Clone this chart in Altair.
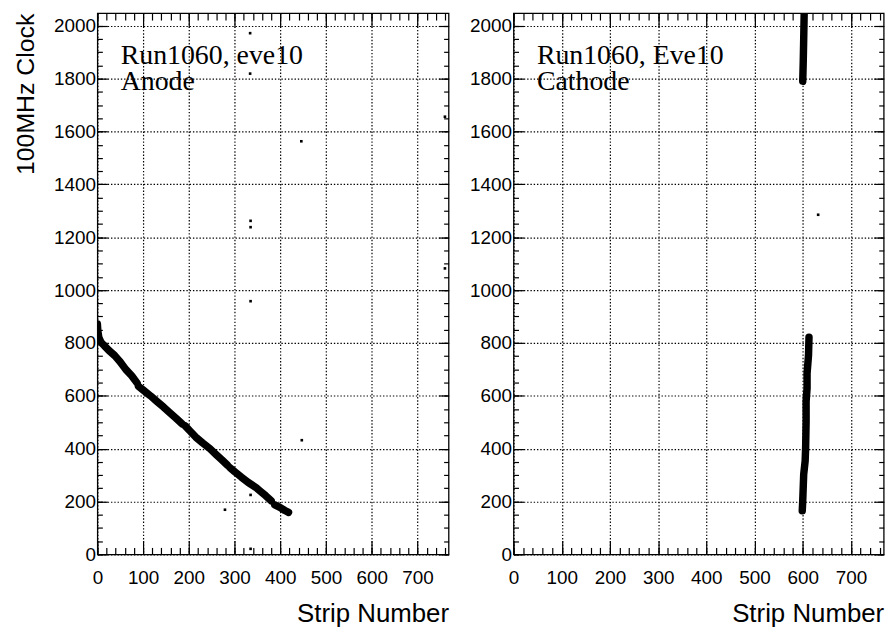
import altair as alt
import pandas as pd

# ---------------- data ----------------
X_MAX = 768
Y_MAX = 2048
X_MAJOR = [0, 100, 200, 300, 400, 500, 600, 700]
X_MINOR = list(range(0, 761, 20))
Y_MAJOR = list(range(0, 2001, 200))
Y_MINOR = list(range(0, 2001, 50))

ANODE_LABEL = ["Run1060, eve10", "Anode"]
CATHODE_LABEL = ["Run1060, Eve10", "Cathode"]

ANODE_SEG = [1] * 11 + [2] * 8 + [3] * 8 + [4] * 8 + [5] * 4
ANODE_STRIP = [0, 1, 3, 8, 15, 25, 38, 50, 62, 75, 87,
               90, 100, 116, 130, 145, 159, 172, 185,
               192, 203, 215, 230, 246, 260, 272, 284,
               290, 300, 315, 330, 347, 355, 368, 380,
               388, 399, 410, 418]
ANODE_CLOCK = [872, 845, 822, 802, 790, 772, 752, 728, 700, 676, 648,
               636, 622, 600, 579, 557, 535, 515, 494,
               486, 466, 444, 422, 400, 377, 358, 338,
               328, 313, 292, 272, 253, 241, 222, 203,
               187, 178, 166, 159]
ANODE_DOT_STRIP = [334, 334, 335, 335, 335, 446, 447, 335, 279, 335, 760, 760]
ANODE_DOT_CLOCK = [1972, 1819, 1262, 1238, 958, 1563, 432, 225, 169, 21, 1656, 1082]

CATHODE_SEG = [1] * 11 + [2] * 4
CATHODE_STRIP = [599, 600, 602, 605, 606, 607, 607, 609, 609, 612, 613,
                 600, 601, 602, 603]
CATHODE_CLOCK = [165, 203, 303, 353, 403, 503, 579, 629, 685, 754, 822,
                 1790, 1860, 1950, 2048]
CATHODE_DOT_STRIP = [632]
CATHODE_DOT_CLOCK = [1285]

# ---------------- helpers ----------------
FONT = "Liberation Sans"
SERIF = "Liberation Serif"
HEIGHT = 545
GRID_DASH = [1.4, 1.9]


def track_df(strips, clocks, segs):
    return pd.DataFrame({"strip": strips, "clock": clocks, "seg": segs,
                         "idx": list(range(len(strips)))})


def dots_df(strips, clocks):
    return pd.DataFrame({"strip": strips, "clock": clocks})


xs = alt.Scale(domain=[0, X_MAX], nice=False, zero=False)
ys = alt.Scale(domain=[0, Y_MAX], nice=False, zero=False)


def tick_axis(orient, values, size):
    return alt.Axis(orient=orient, values=values, offset=-size, tickSize=size,
                    ticks=True, labels=False, domain=False, grid=False,
                    tickColor="black", tickWidth=1.2, title=None)


def panel(tdf, ddf, label, width, ytitle):
    xlab = alt.Axis(orient="bottom", values=X_MAJOR, labels=True, ticks=False,
                    tickSize=0, domain=False, grid=True, gridColor="black",
                    gridDash=GRID_DASH, gridWidth=1.2, gridOpacity=1,
                    labelFont=FONT, labelFontSize=19, labelColor="black",
                    labelPadding=29, labelBaseline="alphabetic", labelAlign="center",
                    labelFlush=False, labelOverlap=False, format="d",
                    title="Strip Number", titleFont=FONT, titleFontSize=26,
                    titleFontWeight="normal", titleColor="black",
                    titleAlign="right", titleAnchor="end", titleBaseline="alphabetic",
                    titleX=width, titleY=68, titleAngle=0)
    yargs = dict(orient="left", values=Y_MAJOR, labels=True, ticks=False,
                 tickSize=0, domain=False, grid=True, gridColor="black",
                 gridDash=GRID_DASH, gridWidth=1.2, gridOpacity=1,
                 labelFont=FONT, labelFontSize=19, labelColor="black",
                 labelPadding=2, labelBaseline="middle", labelAlign="right",
                 labelFlush=False, labelOverlap=False, format="d")
    if ytitle:
        ylab = alt.Axis(title=ytitle, titleFont=FONT, titleFontSize=25,
                        titleFontWeight="normal", titleColor="black",
                        titleAngle=270, titleAlign="right", titleAnchor="end",
                        titleBaseline="alphabetic", titleX=-64.7, titleY=0, **yargs)
    else:
        ylab = alt.Axis(title=None, **yargs)

    axes = [
        (xlab, ylab),
        (tick_axis("bottom", X_MAJOR, 14), tick_axis("left", Y_MAJOR, 10)),
        (tick_axis("bottom", X_MINOR, 7), tick_axis("left", Y_MINOR, 5)),
        (tick_axis("top", X_MAJOR, 14), tick_axis("right", Y_MAJOR, 10)),
        (tick_axis("top", X_MINOR, 7), tick_axis("right", Y_MINOR, 5)),
    ]
    layers = []
    for ax, ay in axes:
        layers.append(
            alt.Chart(ddf).mark_point(opacity=0).encode(
                x=alt.X("strip:Q", scale=xs, axis=ax),
                y=alt.Y("clock:Q", scale=ys, axis=ay),
            )
        )
    track = alt.Chart(tdf).mark_line(
        color="black", strokeWidth=7.5, strokeCap="round", strokeJoin="round", clip=True
    ).encode(
        x=alt.X("strip:Q", scale=xs, axis=None),
        y=alt.Y("clock:Q", scale=ys, axis=None),
        detail="seg:N",
        order="idx:Q",
    )
    dots = alt.Chart(ddf).mark_square(color="black", size=7, opacity=1).encode(
        x=alt.X("strip:Q", scale=xs, axis=None),
        y=alt.Y("clock:Q", scale=ys, axis=None),
    )
    text = alt.Chart(pd.DataFrame({"k": [0]})).mark_text(
        font=SERIF, fontSize=28, align="left", baseline="alphabetic",
        lineHeight=26, color="black"
    ).encode(x=alt.value(23.5), y=alt.value(51), text=alt.value(label))
    return alt.layer(*layers, track, dots, text).resolve_axis(
        x="independent", y="independent"
    ).properties(width=width, height=HEIGHT)


left = panel(track_df(ANODE_STRIP, ANODE_CLOCK, ANODE_SEG),
             dots_df(ANODE_DOT_STRIP, ANODE_DOT_CLOCK),
             ANODE_LABEL, 353.6, "100MHz Clock")
right = panel(track_df(CATHODE_STRIP, CATHODE_CLOCK, CATHODE_SEG),
              dots_df(CATHODE_DOT_STRIP, CATHODE_DOT_CLOCK),
              CATHODE_LABEL, 372.7, None)

chart = alt.hconcat(left, right, spacing=65, bounds="flush").properties(
    padding={"left": 4, "top": 1, "right": 0, "bottom": 0},
    background="white",
).configure_view(stroke="black", strokeWidth=1.3)

chart.save("out.html", embed_options={"renderer": "svg", "actions": False})
